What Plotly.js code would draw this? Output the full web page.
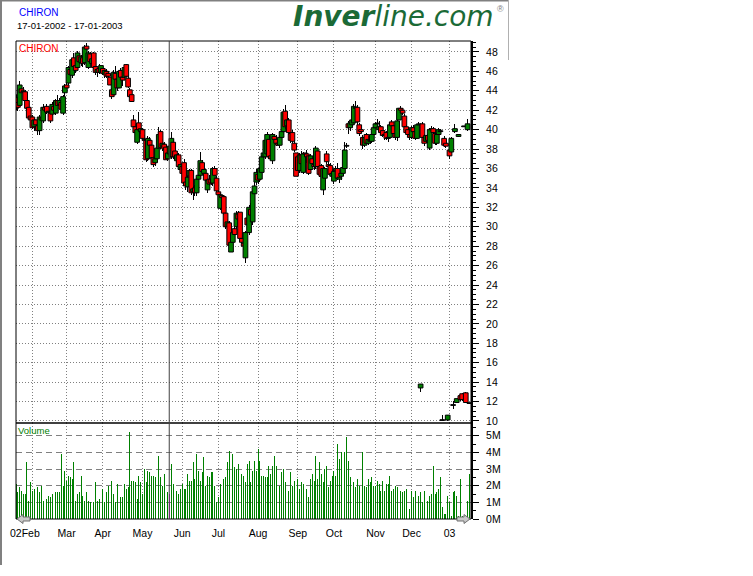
<!DOCTYPE html>
<html><head><meta charset="utf-8">
<script src="https://cdn.plot.ly/plotly-3.0.1.min.js"></script>
<style>html,body{margin:0;padding:0;background:#fff;}#chart{width:753px;height:576px;}</style>
</head><body><div id="chart"></div>
<script>
const tickerName = 'CHIRON';
const periodText = '17-01-2002 - 17-01-2003';
const firstDay = [2002, 0, 17];
const holidays = ['2002-01-21','2002-02-18','2002-03-29','2002-05-27','2002-07-04','2002-09-02','2002-11-28','2002-12-25','2003-01-01'];
const monthLabels = ['02Feb','Mar','Apr','May','Jun','Jul','Aug','Sep','Oct','Nov','Dec','03'];
const cursorDay = 86;

const openP = [
43.6,43.3,42.8,42.5,44.2,43.9,43.9,43.0,42.3,41.4,
41.3,40.3,41.0,40.4,39.9,41.2,40.9,42.3,42.4,41.8,
41.7,41.6,42.4,41.7,43.0,42.6,42.8,41.7,43.8,44.6,
44.8,46.2,45.6,47.4,46.6,46.4,47.6,46.9,47.4,46.9,
48.6,46.4,47.8,46.8,47.9,46.5,45.9,46.3,45.9,46.3,
45.7,46.0,45.8,45.4,44.1,43.6,45.8,45.2,44.3,46.1,
45.4,45.4,46.7,45.3,44.1,43.6,41.0,40.3,38.7,40.7,
39.8,40.0,39.0,38.9,37.0,38.9,38.4,37.1,36.6,37.0,
38.1,39.8,38.3,38.5,38.2,37.0,37.5,37.2,38.7,37.8,
36.8,37.4,35.9,36.2,36.6,34.6,34.1,35.2,35.8,33.6,
34.0,33.5,34.9,35.3,36.6,35.5,35.5,33.8,34.9,34.9,
34.5,36.0,35.0,33.6,31.9,33.2,33.1,31.4,30.0,30.4,
27.4,28.4,29.8,30.0,31.3,31.5,28.8,28.3,26.8,30.9,
29.4,31.8,30.5,33.4,34.6,35.4,34.9,35.6,37.2,37.2,
37.5,39.0,37.3,36.8,39.3,39.0,38.6,38.4,39.2,39.8,
41.9,40.4,41.0,39.6,39.7,38.6,37.6,37.2,35.8,37.4,
35.6,37.6,37.5,37.3,35.9,37.0,36.4,36.2,37.8,36.2,
36.3,33.8,35.0,37.5,36.4,36.3,35.2,34.7,35.8,36.0,
34.9,35.2,35.5,36.0,38.3,40.6,40.2,40.5,40.7,42.2,
42.3,40.5,40.0,39.2,38.4,39.5,38.6,38.9,38.8,39.5,
40.2,40.6,40.0,40.3,39.9,39.4,39.7,39.1,39.2,40.8,
40.4,39.6,39.2,41.0,42.2,42.0,41.4,40.3,40.0,39.5,
39.2,40.2,39.8,39.1,40.5,13.4,40.6,39.2,38.8,39.4,
38.1,40.0,40.1,39.6,38.6,39.5,39.8,10.05,39.1,38.6,
10.1,37.9,37.7,11.6,39.8,11.9,39.3,12.6,12.8,40.3,
12.9,40.0,11.8];

const highP = [
44.5,43.6,43.0,45.0,44.5,44.4,44.1,43.3,42.5,41.8,
41.5,41.2,41.2,40.8,41.5,41.8,42.6,43.1,42.6,42.2,
41.9,42.8,42.9,43.2,43.6,43.3,43.4,43.6,44.7,44.9,
46.6,46.5,47.4,47.9,46.9,48.1,47.9,47.7,47.6,48.7,
48.9,48.1,48.0,47.5,48.0,46.7,46.4,46.8,47.0,46.6,
46.3,46.2,46.0,45.6,44.3,46.1,46.6,46.0,46.4,46.3,
45.8,46.6,46.8,45.5,44.3,43.8,41.5,40.6,40.3,41.8,
40.4,40.2,39.4,39.1,39.3,39.2,38.6,37.3,37.3,38.3,
40.3,40.0,39.0,38.7,38.4,37.8,38.6,39.8,39.0,38.0,
37.6,37.6,36.6,36.4,37.0,35.0,35.3,36.0,36.0,34.2,
34.3,35.1,35.6,37.7,36.9,36.2,35.8,35.0,35.3,35.1,
36.2,36.3,35.2,33.8,33.5,33.4,33.3,31.6,30.8,30.6,
28.6,29.6,30.2,31.6,31.6,31.7,29.1,28.7,29.6,31.8,
32.2,32.4,33.8,34.6,35.9,35.8,36.2,37.4,38.0,39.1,
39.8,39.3,37.6,39.7,39.6,39.4,39.0,39.4,40.0,42.1,
42.5,41.3,41.2,40.2,40.0,38.9,38.0,37.6,37.6,37.8,
37.7,37.8,37.9,37.5,37.5,37.3,37.0,38.3,38.0,36.6,
36.5,36.2,36.2,37.8,36.7,36.6,35.8,35.9,36.3,36.6,
35.3,35.6,36.4,38.7,38.6,40.9,40.8,41.2,42.6,43.0,
42.5,40.7,40.3,39.4,39.5,39.7,39.3,39.2,39.6,40.4,
40.8,41.1,40.9,40.5,40.1,39.8,39.9,39.5,40.7,41.0,
40.6,40.0,41.1,42.6,42.4,42.2,41.6,40.5,40.2,39.9,
40.4,40.5,40.1,40.7,40.8,13.8,40.8,39.6,39.6,39.6,
40.2,40.4,40.3,39.8,39.6,40.2,40.1,10.6,39.3,38.8,
10.6,38.0,39.2,12.1,40.6,12.3,39.6,12.7,12.9,41.0,
13.0,41.1,11.8];

const lowP = [
42.9,42.0,41.9,42.3,43.6,43.7,42.9,42.0,41.1,40.8,
40.1,39.9,40.3,39.5,39.4,40.6,40.7,41.9,41.6,41.3,
40.7,41.4,41.8,41.5,42.3,42.1,41.9,41.5,43.5,44.0,
44.6,45.5,45.3,46.3,45.8,46.2,46.8,46.6,46.5,46.7,
48.2,46.2,46.8,46.2,46.2,45.6,45.4,45.7,45.7,45.6,
45.3,45.3,45.2,44.4,43.2,43.4,45.0,44.0,44.1,45.2,
44.5,45.2,45.4,44.3,43.3,42.8,40.2,39.5,38.5,39.9,
39.6,39.0,38.5,36.7,36.8,38.2,37.0,36.2,36.3,36.8,
37.9,38.0,37.8,37.8,36.7,36.8,37.2,37.0,37.0,37.0,
36.6,36.0,35.8,35.3,34.3,33.8,33.6,34.8,33.3,32.8,
33.2,33.2,34.5,35.1,35.5,35.2,34.6,33.5,34.2,34.3,
34.2,35.1,33.5,33.0,31.7,32.6,31.2,29.8,29.5,28.0,
26.4,28.0,29.0,29.8,30.6,28.6,28.2,27.6,26.3,30.0,
29.2,30.8,30.2,33.0,34.3,34.4,34.6,35.3,36.9,37.0,
37.3,37.0,36.9,36.5,38.8,38.3,37.8,38.1,38.9,39.5,
40.1,40.2,39.5,38.6,38.6,37.7,35.0,35.6,35.5,36.2,
35.4,37.3,36.6,35.3,35.7,36.3,35.8,36.0,36.0,35.1,
35.0,33.3,34.8,36.5,35.6,35.2,34.9,34.4,35.5,34.8,
34.5,34.8,35.2,35.8,38.1,39.6,39.9,40.3,40.5,41.8,
40.2,39.3,39.6,38.0,38.2,38.5,38.4,38.5,38.6,39.3,
39.9,40.4,39.8,39.5,39.2,38.9,38.9,38.7,39.0,40.2,
39.3,38.9,38.8,40.8,41.9,41.5,40.1,39.5,39.3,38.9,
39.0,39.6,38.9,38.9,40.0,13.0,39.0,38.3,38.6,38.6,
37.9,39.8,39.5,38.4,38.4,39.3,39.5,10.0,38.2,38.1,
10.0,37.0,37.6,11.2,39.7,11.8,39.2,12.1,12.1,40.2,
11.9,39.9,11.7];

const closeP = [
43.2,42.2,42.3,44.6,43.8,44.0,43.0,42.2,41.2,41.0,
40.2,41.0,40.5,39.9,41.3,41.0,42.3,42.0,41.8,41.9,
40.9,42.6,42.0,43.0,42.5,43.0,42.1,43.4,44.5,44.3,
46.4,45.7,47.2,46.5,46.1,47.9,47.0,47.5,46.8,48.5,
48.3,47.9,47.0,47.3,46.4,45.9,46.2,45.9,46.6,45.8,
46.1,45.5,45.5,44.6,43.4,45.9,45.2,44.3,46.0,45.4,
45.1,46.4,45.5,44.4,43.4,42.9,40.3,39.7,40.0,40.0,
40.1,39.1,38.9,36.9,39.1,38.4,37.1,36.4,37.0,38.1,
39.5,38.2,38.6,38.0,36.9,37.6,38.3,39.1,37.2,37.2,
37.4,36.2,36.4,35.5,34.5,34.2,35.1,35.8,33.5,33.9,
33.5,34.9,35.3,36.8,35.7,35.9,34.8,34.8,34.4,34.5,
36.0,35.3,33.7,33.3,33.3,33.0,31.4,30.0,30.5,28.1,
28.4,29.4,29.2,31.4,30.8,28.8,28.4,28.0,29.4,30.2,
32.0,31.2,33.6,34.2,35.6,34.8,36.0,37.2,37.6,38.9,
39.5,37.2,37.0,39.5,39.0,38.6,38.4,39.2,39.8,41.8,
40.3,41.0,39.7,38.9,38.8,37.9,35.2,35.8,37.4,36.5,
37.5,37.5,37.2,35.5,37.3,36.5,36.2,38.1,36.2,35.4,
35.2,36.0,36.0,36.7,36.2,35.4,35.5,35.7,36.0,35.0,
35.1,35.5,36.1,37.9,38.3,40.2,40.7,41.0,42.4,42.3,
40.8,39.6,39.8,38.4,39.2,38.6,39.0,38.8,39.5,40.2,
40.6,40.6,40.3,39.7,39.4,39.5,39.1,39.2,40.5,40.4,
39.6,39.2,40.9,42.2,42.0,41.7,40.3,39.7,39.5,39.2,
40.2,39.8,39.1,40.5,40.6,13.8,39.2,38.6,39.4,38.9,
40.0,40.1,39.7,38.6,39.5,40.0,39.8,10.05,38.4,38.3,
10.6,37.3,39.1,11.6,40.1,12.3,39.5,12.2,12.2,40.3,
11.9,40.6,11.8];

const volumeM = [
1.8,2.1,1.6,1.9,1.7,1.5,1.5,3.4,1.1,2.2,
1.7,1.8,1.6,1.9,1.6,2.0,1.1,1.2,1.2,1.4,
1.3,1.5,1.3,1.6,1.6,1.6,3.9,2.0,2.9,2.3,
2.6,2.5,2.4,3.4,1.1,1.5,1.6,2.6,1.4,1.1,
1.6,1.1,1.0,1.3,1.0,2.2,1.1,1.2,1.4,1.8,
1.0,1.6,2.0,2.6,2.3,1.5,1.0,2.1,1.5,1.3,
1.3,2.1,1.8,1.9,5.2,2.3,2.3,2.2,1.2,2.6,
2.2,1.5,3.0,2.2,2.9,2.8,2.6,2.6,2.5,3.0,
3.8,2.5,2.0,2.7,1.9,1.6,1.5,3.3,2.1,2.0,
1.7,1.5,1.8,2.1,1.8,1.8,2.7,2.3,2.3,3.4,
2.4,3.9,2.9,2.3,2.8,3.7,2.0,2.6,2.5,2.8,
2.8,2.0,1.0,1.3,2.1,2.9,2.4,2.5,3.4,4.1,
5.7,3.9,3.1,3.0,3.3,3.0,2.7,2.6,2.2,3.3,
3.5,2.2,2.9,3.5,2.9,4.2,3.5,2.6,2.6,2.5,
2.5,3.2,2.7,3.2,3.8,3.2,2.0,2.0,2.8,3.0,
2.2,2.1,1.7,2.8,2.0,2.3,2.6,2.4,1.8,2.2,
2.1,1.4,1.8,1.3,2.4,2.7,2.3,3.8,2.4,3.4,
2.7,2.2,3.0,3.2,1.9,2.3,2.6,2.9,2.6,4.5,
3.6,4.0,3.2,4.0,4.9,3.5,2.5,2.0,2.2,1.9,
2.4,2.0,3.1,4.0,2.0,1.9,2.4,2.2,2.5,2.0,
2.0,2.3,2.1,1.7,2.3,1.7,2.1,2.1,2.6,1.7,
1.8,2.0,1.9,2.5,1.7,1.6,1.7,1.8,1.8,0.6,
1.7,1.3,1.7,1.8,1.4,1.6,1.0,1.7,1.4,1.1,
1.4,1.5,3.2,1.5,1.6,1.8,2.5,0.7,0.3,0.3,
1.4,1.0,0.2,1.6,1.7,1.4,0.2,2.4,0.2,1.4,
0.2,1.1,2.7];

// ---- trading calendar (weekdays minus exchange holidays) ----
const dates = [];
const d = new Date(Date.UTC(firstDay[0], firstDay[1], firstDay[2]));
while (dates.length < closeP.length) {
  const s = d.toISOString().slice(0, 10);
  const w = d.getUTCDay();
  if (w !== 0 && w !== 6 && !holidays.includes(s)) dates.push(s);
  d.setUTCDate(d.getUTCDate() + 1);
}
const dayIdx = dates.map((s, i) => i);
const monthStarts = [];
for (let i = 1; i < dates.length; i++) {
  if (dates[i].slice(5, 7) !== dates[i - 1].slice(5, 7)) monthStarts.push(i);
}
const tickText = monthStarts.map((m, k) => (k === 0 ? '' : monthLabels[k]));

// ---- geometry helpers (pixel -> paper) ----
const L = 16, R = 471, T = 41, B = 519;
const PX = x => (x - L) / (R - L);
const PY = y => (B - y) / (B - T);
const volSplit = PY(423);

const UP = '#008000', DOWN = '#ff0000', FLAT = '#000000';
const bodyColors = closeP.map((c, i) => c > openP[i] ? UP : (c < openP[i] ? DOWN : FLAT));
const bodyBase = closeP.map((c, i) => Math.min(c, openP[i]));
const bodyLen = closeP.map((c, i) => Math.max(Math.abs(c - openP[i]), 0.08));
const wickLen = highP.map((h, i) => h - lowP[i]);
const volColors = volumeM.map((v, i) => i === cursorDay ? '#ff00ff' : '#008000');

const traces = [
  {type: 'bar', x: dayIdx, base: lowP, y: wickLen, width: 0.5, xaxis: 'x', yaxis: 'y',
   marker: {color: '#000', line: {width: 0}}, hoverinfo: 'skip'},
  {type: 'bar', x: dayIdx, base: bodyBase, y: bodyLen, width: 2.6, xaxis: 'x', yaxis: 'y',
   marker: {color: bodyColors, line: {color: '#000', width: 1}}, hoverinfo: 'skip'},
  {type: 'bar', x: dayIdx, y: volumeM, width: 0.5, xaxis: 'x', yaxis: 'y2',
   marker: {color: volColors, line: {width: 0}}, hoverinfo: 'skip'}
];

function arrowPath(tipX, dir) {
  const y = 519, hx = tipX + dir * 6, ex = tipX + dir * 13;
  const pts = [[tipX, y], [hx, y - 4.5], [hx, y - 2], [ex, y - 2], [ex, y + 2], [hx, y + 2], [hx, y + 4.5]];
  return 'M' + pts.map(p => PX(p[0]) + ',' + PY(p[1])).join('L') + 'Z';
}

const font = 'Liberation Sans, Arial, sans-serif';
const layout = {
  width: 753, height: 576,
  margin: {l: L, r: 753 - R, t: T, b: 576 - B, pad: 0},
  paper_bgcolor: '#fff', plot_bgcolor: '#fff',
  showlegend: false, barmode: 'overlay', bargap: 0,
  font: {family: font, size: 10.5, color: '#000'},
  xaxis: {
    range: [0.94, 252.9], anchor: 'y2', tickmode: 'array', tickvals: monthStarts, ticktext: tickText,
    showgrid: true, gridcolor: '#808080', gridwidth: 1, griddash: '1px,2px',
    zeroline: false, showline: false, ticks: '', ticklabelstandoff: 6,
    tickfont: {family: font, size: 10.5, color: '#000'}
  },
  yaxis: {
    domain: [volSplit, 1], side: 'right', range: [9.79, 49.13], tick0: 10, dtick: 2,
    showgrid: true, gridcolor: '#808080', gridwidth: 1, griddash: '1px,2px',
    zeroline: false, showline: true, linecolor: '#000', linewidth: 2,
    ticks: 'outside', ticklen: 6, tickcolor: '#000', tickwidth: 1, ticklabelstandoff: 5,
    minor: {dtick: 0.5, ticks: 'outside', ticklen: 3, tickcolor: '#000', showgrid: false},
    tickfont: {family: font, size: 10.5, color: '#000'}
  },
  yaxis2: {
    domain: [0, volSplit], side: 'right', range: [0, 5.76], tick0: 0, dtick: 1, ticksuffix: 'M',
    showgrid: true, gridcolor: '#808080', gridwidth: 1, griddash: '6px,4px',
    zeroline: false, showline: true, linecolor: '#000', linewidth: 2,
    ticks: 'outside', ticklen: 6, tickcolor: '#000', tickwidth: 1, ticklabelstandoff: 5,
    minor: {dtick: 0.5, ticks: 'outside', ticklen: 3, tickcolor: '#000', showgrid: false},
    tickfont: {family: font, size: 10.5, color: '#000'}
  },
  shapes: [
    {type: 'rect', xref: 'paper', yref: 'paper', x0: 0, x1: 1, y0: 0, y1: 1, line: {color: '#000', width: 1}},
    {type: 'line', xref: 'paper', yref: 'paper', x0: 0, x1: 1, y0: volSplit, y1: volSplit, line: {color: '#000', width: 1.5}},
    {type: 'line', xref: 'x', yref: 'paper', x0: cursorDay - 0.2, x1: cursorDay - 0.2, y0: 0, y1: 1, line: {color: '#404040', width: 1}},
    {type: 'path', xref: 'paper', yref: 'paper', path: arrowPath(17, 1), fillcolor: '#c8c8c8', line: {color: '#707070', width: 1}},
    {type: 'path', xref: 'paper', yref: 'paper', path: arrowPath(470, -1), fillcolor: '#c8c8c8', line: {color: '#707070', width: 1}},
    {type: 'line', xref: 'paper', yref: 'paper', x0: PX(0), x1: PX(509), y0: PY(0.5), y1: PY(0.5), line: {color: '#808080', width: 2}},
    {type: 'line', xref: 'paper', yref: 'paper', x0: PX(1), x1: PX(1), y0: PY(0), y1: PY(565), line: {color: '#808080', width: 2}},
    {type: 'line', xref: 'paper', yref: 'paper', x0: PX(508.5), x1: PX(508.5), y0: PY(0), y1: PY(60), line: {color: '#b0b0b0', width: 1}}
  ],
  annotations: [
    {xref: 'paper', yref: 'paper', x: PX(17), y: PY(12.5), xanchor: 'left', yanchor: 'middle', showarrow: false,
     text: tickerName, font: {family: font, size: 10, color: '#0000ff'}},
    {xref: 'paper', yref: 'paper', x: PX(15), y: PY(25.5), xanchor: 'left', yanchor: 'middle', showarrow: false,
     text: periodText, font: {family: font, size: 9.5, color: '#000'}},
    {xref: 'paper', yref: 'paper', x: PX(291), y: PY(16.5), xanchor: 'left', yanchor: 'middle', showarrow: false,
     text: '<b>Inver</b>line.com', font: {family: 'DejaVu Sans, Verdana, sans-serif', size: 28, style: 'italic', color: '#1b6a36'}},
    {xref: 'paper', yref: 'paper', x: PX(495), y: PY(9), xanchor: 'left', yanchor: 'middle', showarrow: false,
     text: '®', font: {family: font, size: 9, color: '#808080'}},
    {xref: 'paper', yref: 'paper', x: PX(17), y: PY(48.5), xanchor: 'left', yanchor: 'middle', showarrow: false,
     text: tickerName, font: {family: font, size: 10, color: '#ff0000'}},
    {xref: 'paper', yref: 'paper', x: PX(16), y: PY(430.5), xanchor: 'left', yanchor: 'middle', showarrow: false,
     text: 'Volume', font: {family: font, size: 9.5, color: '#008000'}},
    {xref: 'paper', yref: 'paper', x: PX(8), y: PY(533), xanchor: 'left', yanchor: 'middle', showarrow: false,
     text: monthLabels[0], font: {family: font, size: 10.5, color: '#000'}}
  ]
};

Plotly.newPlot('chart', traces, layout, {displayModeBar: false, staticPlot: true});
</script>
</body></html>
